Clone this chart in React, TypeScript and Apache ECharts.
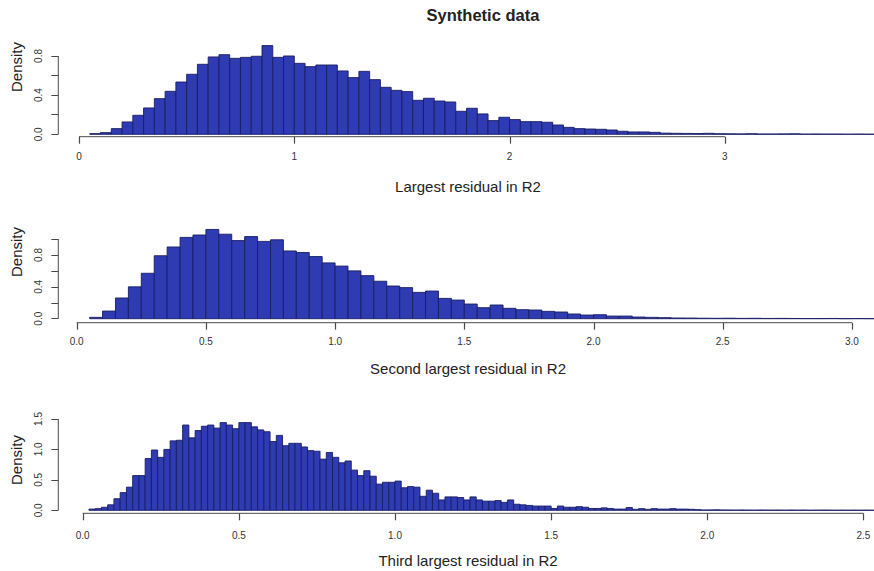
import React, { useEffect, useRef } from 'react';
import * as echarts from 'echarts';

// ---------- data ----------
const titleText = 'Synthetic data';
const yName = 'Density';

// Panel 1: largest residual, bins of 0.05 from 0.05
const p1Label = 'Largest residual in R2';
const p1BinStart = 0.05;
const p1BinWidth = 0.05;
const p1Density = [
  0.007, 0.017, 0.058, 0.126, 0.194, 0.269, 0.364, 0.439, 0.534, 0.613,
  0.715, 0.79, 0.813, 0.776, 0.786, 0.797, 0.906, 0.786, 0.8, 0.725,
  0.691, 0.708, 0.708, 0.647, 0.579, 0.643, 0.558, 0.48, 0.449, 0.436,
  0.347, 0.368, 0.34, 0.33, 0.235, 0.266, 0.208, 0.14, 0.174, 0.15,
  0.129, 0.129, 0.123, 0.095, 0.071, 0.058, 0.054, 0.051, 0.044, 0.031,
  0.024, 0.024, 0.02, 0.012, 0.01, 0.009, 0.008, 0.01, 0.006, 0.005,
  0.004, 0.006, 0.003, 0.003, 0.004, 0.005, 0.002, 0.003, 0.002, 0.002,
  0.001, 0.002, 0.001,
];
const p1XTicks = [0, 1, 2, 3];
const p1YTicks = [0, 0.2, 0.4, 0.6, 0.8];
const p1YLabels = [0, 0.4, 0.8];

// Panel 2: second largest residual, bins of 0.05 from 0.05
const p2Label = 'Second largest residual in R2';
const p2BinStart = 0.05;
const p2BinWidth = 0.05;
const p2Density = [
  0.017, 0.096, 0.26, 0.4, 0.57, 0.79, 0.9, 1.02, 1.05, 1.12,
  1.06, 0.98, 1.03, 0.97, 0.99, 0.85, 0.83, 0.78, 0.7, 0.66,
  0.6, 0.54, 0.47, 0.41, 0.39, 0.33, 0.347, 0.255, 0.234, 0.184,
  0.138, 0.172, 0.13, 0.113, 0.109, 0.092, 0.084, 0.059, 0.046, 0.05,
  0.033, 0.033, 0.021, 0.017, 0.013, 0.009, 0.008, 0.006, 0.005, 0.006,
  0.004, 0.005, 0.003, 0.004, 0.003, 0.002, 0.002, 0.003, 0.001, 0.002,
  0.001,
];
const p2XTicks = [0, 0.5, 1.0, 1.5, 2.0, 2.5, 3.0];
const p2YTicks = [0, 0.2, 0.4, 0.6, 0.8, 1.0];
const p2YLabels = [0, 0.4, 0.8];

// Panel 3: third largest residual, bins of 0.02 from 0.02
const p3Label = 'Third largest residual in R2';
const p3BinStart = 0.02;
const p3BinWidth = 0.02;
const p3Density = [
  0.02, 0.027, 0.05, 0.09, 0.19, 0.29, 0.38, 0.57, 0.57, 0.85,
  0.99, 0.87, 1.0, 1.14, 1.15, 1.4, 1.19, 1.31, 1.38, 1.4,
  1.35, 1.44, 1.4, 1.34, 1.44, 1.44, 1.37, 1.32, 1.29, 1.13,
  1.23, 1.06, 1.1, 1.1, 1.04, 0.98, 0.97, 0.84, 0.95, 0.87,
  0.78, 0.81, 0.66, 0.57, 0.65, 0.56, 0.43, 0.46, 0.46, 0.48,
  0.37, 0.39, 0.38, 0.23, 0.33, 0.28, 0.17, 0.22, 0.22, 0.21,
  0.17, 0.22, 0.17, 0.15, 0.15, 0.16, 0.13, 0.17, 0.1, 0.09,
  0.08, 0.07, 0.07, 0.07, 0.03, 0.07, 0.05, 0.05, 0.06, 0.05,
  0.03, 0.03, 0.04, 0.03, 0.02, 0.02, 0.045, 0.016, 0.027, 0.016,
  0.027, 0.02, 0.02, 0.027, 0.02, 0.02, 0.016, 0.01, 0.005, 0.006,
  0.008, 0.005, 0.004, 0.003, 0.005, 0.003, 0.002, 0.004, 0.003, 0.002,
  0.003, 0.002, 0.004, 0.002, 0.003, 0.001, 0.002, 0.003, 0.002, 0.001,
  0.002, 0.001, 0.002, 0.001, 0.002, 0.001,
];
const p3XTicks = [0, 0.5, 1.0, 1.5, 2.0, 2.5];
const p3YTicks = [0, 0.5, 1.0, 1.5];
const p3YLabels = [0, 0.5, 1.0, 1.5];

// ---------- styling / layout ----------
const W = 874;
const H = 571;
const BAR_FILL = '#2e3bb3';
const BAR_EDGE = '#1a1d63';
const AXIS_COLOR = '#4a4a4a';
const TEXT_COLOR = '#333333';
const FONT = '"Liberation Sans", Arial, Helvetica, sans-serif';
const TICK_LEN = 7;

type Geo = {
  x0: number; ppx: number; left: number; right: number;
  y0: number; ppy: number; axisY: number; top: number;
  xDecimals: number; xMargin: number;
  labelY: number; densityY: number;
};

const geos: Geo[] = [
  { x0: 79, ppx: 215.3, left: 58.3, right: 874, y0: 134.3, ppy: 97.9, axisY: 136.7, top: 30, xDecimals: 0, xMargin: 15, labelY: 186, densityY: 67 },
  { x0: 76.7, ppx: 258.4, left: 58.3, right: 874, y0: 318.7, ppy: 79.7, axisY: 322.7, top: 215, xDecimals: 1, xMargin: 14, labelY: 368, densityY: 252 },
  { x0: 82.7, ppx: 312.3, left: 58.3, right: 874, y0: 510.3, ppy: 60.9, axisY: 513.3, top: 400, xDecimals: 1, xMargin: 17, labelY: 560, densityY: 460 },
];

const panels = [
  { label: p1Label, start: p1BinStart, width: p1BinWidth, vals: p1Density, xTicks: p1XTicks, yTicks: p1YTicks, yLabels: p1YLabels },
  { label: p2Label, start: p2BinStart, width: p2BinWidth, vals: p2Density, xTicks: p2XTicks, yTicks: p2YTicks, yLabels: p2YLabels },
  { label: p3Label, start: p3BinStart, width: p3BinWidth, vals: p3Density, xTicks: p3XTicks, yTicks: p3YTicks, yLabels: p3YLabels },
];

function buildOption() {
  const grid: any[] = [];
  const xAxis: any[] = [];
  const yAxis: any[] = [];
  const series: any[] = [];
  const graphic: any[] = [];

  panels.forEach((p, i) => {
    const g = geos[i];
    const xMin = -(g.x0 - g.left) / g.ppx;
    const xMax = (g.right - g.x0) / g.ppx;
    const yMin = -(g.axisY - g.y0) / g.ppy;
    const yMax = (g.y0 - g.top) / g.ppy;
    grid.push({ left: g.left, top: g.top, width: g.right - g.left, height: g.axisY - g.top, containLabel: false, outerBoundsMode: 'none' });
    xAxis.push({
      type: 'value', gridIndex: i, min: xMin, max: xMax,
      axisLine: { show: false, onZero: false },
      splitLine: { show: false },
      axisTick: { show: false },
      axisLabel: {
        customValues: p.xTicks, margin: g.xMargin, color: TEXT_COLOR, fontSize: 10, fontFamily: FONT,
        formatter: (v: number) => v.toFixed(g.xDecimals),
      },
    });
    yAxis.push({
      type: 'value', gridIndex: i, min: yMin, max: yMax,
      axisLine: { show: false, onZero: false },
      splitLine: { show: false },
      axisTick: { show: true, length: TICK_LEN, customValues: p.yTicks, lineStyle: { color: AXIS_COLOR, width: 1 } },
      axisLabel: {
        customValues: p.yLabels, margin: 15, rotate: 90, color: TEXT_COLOR, fontSize: 10, fontFamily: FONT,
        formatter: (v: number) => v.toFixed(1),
      },
    });
    const data = p.vals.map((v, k) => [p.start + k * p.width, p.start + (k + 1) * p.width, v]);
    series.push({
      type: 'custom', xAxisIndex: i, yAxisIndex: i, silent: true,
      encode: { x: [0, 1], y: 2 },
      data,
      renderItem: (params: any, api: any) => {
        const a = api.coord([api.value(0), 0]);
        const b = api.coord([api.value(1), api.value(2)]);
        return {
          type: 'rect',
          shape: { x: a[0], y: b[1], width: b[0] - a[0], height: a[1] - b[1] },
          style: { fill: BAR_FILL, stroke: BAR_EDGE, lineWidth: 0.9 },
        };
      },
    });
    // R-style x-axis tick marks (downward from the axis line)
    series.push({
      type: 'custom', xAxisIndex: i, yAxisIndex: i, silent: true, clip: false,
      encode: { x: 0 },
      data: p.xTicks.map((t) => [t]),
      renderItem: (params: any, api: any) => {
        const pt = api.coord([api.value(0), yMin]);
        const x = Math.round(pt[0]) + 0.5;
        return {
          type: 'line',
          shape: { x1: x, y1: pt[1], x2: x, y2: pt[1] + TICK_LEN },
          style: { stroke: AXIS_COLOR, lineWidth: 1.2 },
        };
      },
    });
    // R-style axis lines spanning only the tick range
    series.push({
      type: 'line', xAxisIndex: i, yAxisIndex: i, silent: true, symbol: 'none', clip: false,
      lineStyle: { color: AXIS_COLOR, width: 1 },
      data: [[p.xTicks[0], yMin], [p.xTicks[p.xTicks.length - 1], yMin]],
    });
    series.push({
      type: 'line', xAxisIndex: i, yAxisIndex: i, silent: true, symbol: 'none', clip: false,
      lineStyle: { color: AXIS_COLOR, width: 1 },
      data: [[xMin, p.yTicks[0]], [xMin, p.yTicks[p.yTicks.length - 1]]],
    });
    graphic.push({
      type: 'text', x: 468, y: g.labelY,
      style: { text: p.label, font: `15px ${FONT}`, fill: '#222', textAlign: 'center', textVerticalAlign: 'middle' },
    });
    graphic.push({
      type: 'text', x: 16, y: g.densityY, rotation: Math.PI / 2,
      style: { text: yName, font: `15px ${FONT}`, fill: '#222', textAlign: 'center', textVerticalAlign: 'middle' },
    });
  });

  graphic.push({
    type: 'text', x: 483, y: 15,
    style: { text: titleText, font: `bold 16.5px ${FONT}`, fill: '#222', textAlign: 'center', textVerticalAlign: 'middle' },
  });

  return { animation: false, backgroundColor: '#ffffff', grid, xAxis, yAxis, series, graphic };
}

export default function App() {
  const ref = useRef<HTMLDivElement>(null);
  useEffect(() => {
    if (!ref.current) return;
    const chart = echarts.init(ref.current, undefined, { renderer: 'svg' });
    chart.setOption(buildOption() as any);
    return () => chart.dispose();
  }, []);
  return <div ref={ref} style={{ position: 'absolute', left: 0, top: 0, width: W, height: H }} />;
}
